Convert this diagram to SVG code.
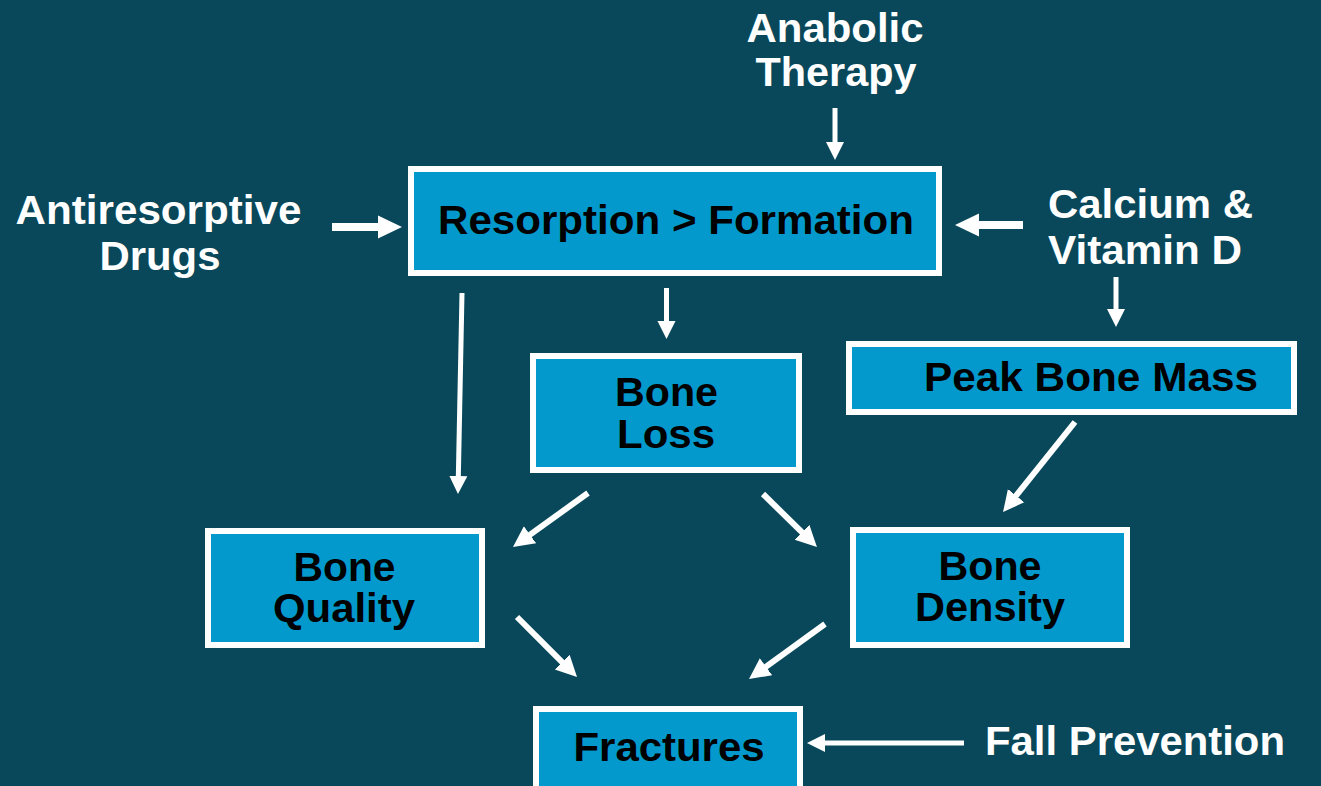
<svg xmlns="http://www.w3.org/2000/svg" width="1321" height="786" viewBox="0 0 1321 786">
<style>
.bg{fill:#09485A}
.box{fill:#0399CC;stroke:#FFFFFF;stroke-width:6}
.t{font-family:"Liberation Sans",Arial,sans-serif;font-weight:bold;font-size:40px;text-anchor:middle}
.dark{fill:#000000}
.light{fill:#FFFFFF}
.a{stroke:#FFFFFF;fill:none;stroke-width:5}
.ab{stroke:#FFFFFF;fill:none;stroke-width:8;marker-end:url(#big)}
.as{marker-end:url(#sm)}
.ad{stroke-width:6;marker-end:url(#md)}
</style>
<defs>
<marker id="sm" markerUnits="userSpaceOnUse" markerWidth="22" markerHeight="22" viewBox="0 -11 22 22" refX="2" refY="0" orient="auto"><path d="M0,-9 L18,0 L0,9 z" fill="#FFFFFF"/></marker>
<marker id="md" markerUnits="userSpaceOnUse" markerWidth="24" markerHeight="24" viewBox="0 -12 24 24" refX="2" refY="0" orient="auto"><path d="M0,-10.5 L21,0 L0,10.5 z" fill="#FFFFFF"/></marker>
<marker id="big" markerUnits="userSpaceOnUse" markerWidth="28" markerHeight="28" viewBox="0 -14 28 28" refX="2" refY="0" orient="auto"><path d="M0,-11.5 L24,0 L0,11.5 z" fill="#FFFFFF"/></marker>
</defs>
<rect class="bg" x="0" y="0" width="1321" height="786"/>

<g id="connectors">
<line class="a as" x1="835" y1="108" x2="835" y2="144"/>
<line class="ab" x1="332" y1="227" x2="380" y2="227"/>
<line class="ab" x1="1023" y1="225" x2="977" y2="225"/>
<line class="a as" x1="1116" y1="277" x2="1116" y2="311"/>
<line class="a as" x1="462" y1="293" x2="458.3" y2="478"/>
<line class="a as" x1="666.5" y1="288" x2="666.5" y2="323"/>
<line class="a ad" x1="588" y1="493" x2="528.4" y2="535.9"/>
<line class="a ad" x1="763" y1="494" x2="803.4" y2="533.7"/>
<line class="a ad" x1="517" y1="617" x2="563.6" y2="663.6"/>
<line class="a ad" x1="825" y1="624" x2="764.4" y2="667.9"/>
<line class="a ad" x1="1075" y1="422" x2="1014.9" y2="497.2"/>
<line class="a as" x1="964" y1="743" x2="823" y2="743"/>
</g>

<g id="anabolic-therapy">
<text class="t light" x="835" y="42" textLength="177" lengthAdjust="spacingAndGlyphs">Anabolic</text>
<text class="t light" x="836" y="86" textLength="161" lengthAdjust="spacingAndGlyphs">Therapy</text>
</g>

<g id="antiresorptive-drugs">
<text class="t light" x="158.5" y="224" textLength="286" lengthAdjust="spacingAndGlyphs">Antiresorptive</text>
<text class="t light" x="160" y="270" textLength="121" lengthAdjust="spacingAndGlyphs">Drugs</text>
</g>

<g id="calcium-vitamin-d">
<text class="t light" x="1048" y="218" style="text-anchor:start" textLength="205" lengthAdjust="spacingAndGlyphs">Calcium &amp;</text>
<text class="t light" x="1048" y="264" style="text-anchor:start" textLength="194" lengthAdjust="spacingAndGlyphs">Vitamin D</text>
</g>

<g id="fall-prevention">
<text class="t light" x="985" y="755" style="text-anchor:start" textLength="300" lengthAdjust="spacingAndGlyphs">Fall Prevention</text>
</g>

<g id="resorption-formation">
<rect class="box" x="411" y="169" width="528" height="104"/>
<text class="t dark" x="676" y="234" textLength="476" lengthAdjust="spacingAndGlyphs">Resorption &gt; Formation</text>
</g>

<g id="bone-loss">
<rect class="box" x="533" y="356" width="266" height="114"/>
<text class="t dark" x="666.5" y="406" textLength="103" lengthAdjust="spacingAndGlyphs">Bone</text>
<text class="t dark" x="666" y="448" textLength="98" lengthAdjust="spacingAndGlyphs">Loss</text>
</g>

<g id="peak-bone-mass">
<rect class="box" x="849" y="344" width="445" height="68"/>
<text class="t dark" x="1091" y="391" textLength="334" lengthAdjust="spacingAndGlyphs">Peak Bone Mass</text>
</g>

<g id="bone-quality">
<rect class="box" x="208" y="531" width="274" height="114"/>
<text class="t dark" x="344.5" y="581" textLength="102" lengthAdjust="spacingAndGlyphs">Bone</text>
<text class="t dark" x="344" y="622" textLength="142" lengthAdjust="spacingAndGlyphs">Quality</text>
</g>

<g id="bone-density">
<rect class="box" x="853" y="530" width="274" height="115"/>
<text class="t dark" x="990" y="580" textLength="103" lengthAdjust="spacingAndGlyphs">Bone</text>
<text class="t dark" x="990" y="621" textLength="150" lengthAdjust="spacingAndGlyphs">Density</text>
</g>

<g id="fractures">
<rect class="box" x="536" y="709" width="264" height="100"/>
<text class="t dark" x="669" y="761" textLength="191" lengthAdjust="spacingAndGlyphs">Fractures</text>
</g>
</svg>
